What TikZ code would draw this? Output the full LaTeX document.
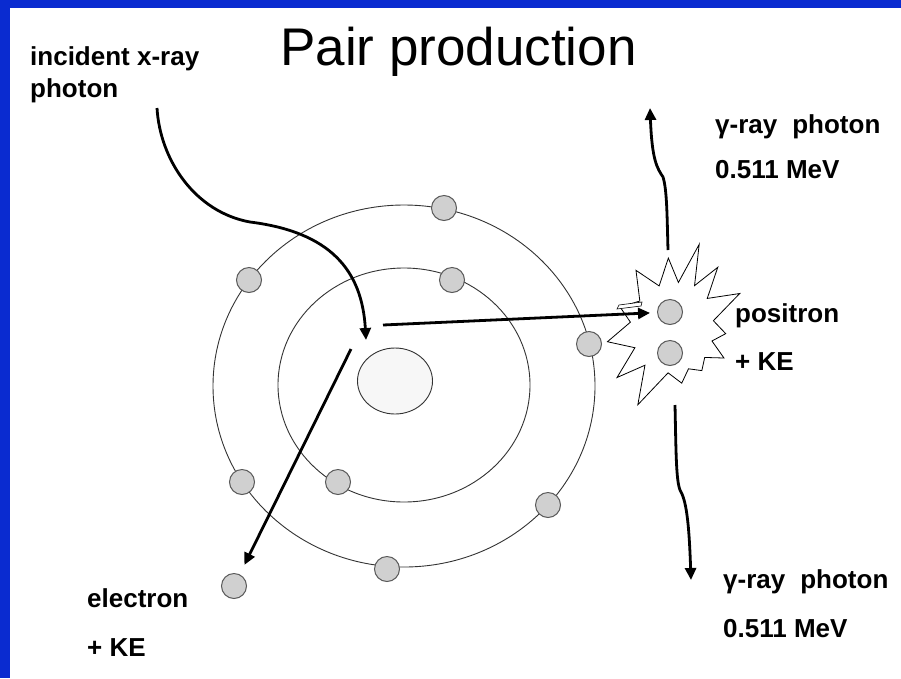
\documentclass[tikz,border=0pt]{standalone}
\usepackage{fontspec}
\setmainfont{Liberation Sans}
\usetikzlibrary{arrows.meta,shapes.geometric}

\definecolor{slideblue}{RGB}{10,43,208}
\definecolor{shellgray}{RGB}{208,208,208}

\begin{document}
\begin{tikzpicture}[x=1pt,y=-1pt,
  orbit/.style={draw=black!80,line width=0.9pt},
  electron/.style={draw=black!65,circle,fill=shellgray,line width=1pt,minimum size=25pt,inner sep=0pt},
  ray/.style={line width=2.8pt,-{Triangle[length=12pt,width=11pt]}},
  lbl/.style={anchor=base west,inner sep=0pt,font=\fontsize{26}{30}\selectfont\bfseries}]
\useasboundingbox (0,0) rectangle (901,678);
\fill[white] (0,0) rectangle (901,678);
\fill[slideblue] (0,0) rectangle (901,8);
\fill[slideblue] (0,0) rectangle (10,678);

% atom: two shells and the nucleus
\draw[orbit] (404,386) ellipse [x radius=191pt,y radius=181pt];
\draw[orbit] (404,385) ellipse [x radius=126pt,y radius=117pt];
\node[draw=black!80,ellipse,fill=black!3,line width=0.9pt,minimum width=75pt,minimum height=66pt,inner sep=0pt] (nuc) at (395,381) {};

% outer shell electrons
\node[electron] (o1) at (444,208) {};
\node[electron] (o2) at (249,280) {};
\node[electron] (o3) at (589,344) {};
\node[electron] (o4) at (242,482) {};
\node[electron] (o5) at (548,505) {};
\node[electron] (o6) at (387,569) {};
% inner shell electrons
\node[electron] (i1) at (452,280) {};
\node[electron] (i2) at (338,482) {};
% ejected electron
\node[electron] (free) at (234,586) {};

% burst where the pair appears
\coordinate (burst) at (672,328);
\begin{scope}[shift={(burst)}]
\draw[line width=0.8pt,fill=white] (-158:56) -- (-140:42) -- (-122:68) -- (-107:44) -- (-93:70) -- (-82:46)
  -- (-72:88) -- (-62:48) -- (-53:76) -- (-40:46) -- (-27:76) -- (-10:42) -- (6:54) -- (18:42)
  -- (30:60) -- (42:44) -- (55:52) -- (68:44) -- (80:56) -- (95:45) -- (114:84) -- (126:46)
  -- (138:74) -- (152:42) -- (168:66) -- (-172:42) -- cycle;
\end{scope}
\node[electron] (p1) at (670,312) {};
\node[electron] (p2) at (670,353) {};

% photon coming in
\coordinate (xin) at (157,108);
\coordinate (bend) at (250,222);
\coordinate (hit) at (366,340);
\draw[ray] (xin) .. controls (160,160) and (195,212) .. (bend) .. controls (330,232) and (362,270) .. (hit);

% electron and positron leaving
\coordinate (eout) at (351,349);
\draw[ray,shorten >=10.5pt] (eout) -- (free);
\coordinate (pout) at (383,325);
\draw[line width=0.6pt,fill=white] (617,309) -- (619,305) -- (642,302) -- (641,306) -- cycle;
\draw[ray,shorten >=7pt] (pout) -- (p1);

% annihilation photons
\coordinate (gup) at (668,250);
\coordinate (gtop) at (650,108);
\draw[ray] (gup) .. controls (667,215) and (667,190) .. (663,177) .. controls (657,168) and (652,160) .. (gtop);
\coordinate (gdown) at (675,405);
\coordinate (gbot) at (691,580);
\draw[ray] (gdown) .. controls (676,450) and (676,480) .. (680,490) .. controls (686,500) and (689,520) .. (gbot);

% labels
\node[anchor=base west,inner sep=0pt,font=\fontsize{53}{60}\selectfont] (title) at (280,65) {Pair production};
\node[lbl] (inc1) at (30,65) {incident x-ray};
\node[lbl] (inc2) at (30,97) {photon};
\node[lbl] (gu1) at (715,133) {γ-ray\hspace{15pt}photon};
\node[lbl] (gu2) at (715,178) {0.511 MeV};
\node[lbl] (pos1) at (735,322) {positron};
\node[lbl] (pos2) at (735,370) {+ KE};
\node[lbl] (gd1) at (723,588) {γ-ray\hspace{15pt}photon};
\node[lbl] (gd2) at (723,637) {0.511 MeV};
\node[lbl] (el1) at (87,607) {electron};
\node[lbl] (el2) at (87,656) {+ KE};
\end{tikzpicture}
\end{document}
